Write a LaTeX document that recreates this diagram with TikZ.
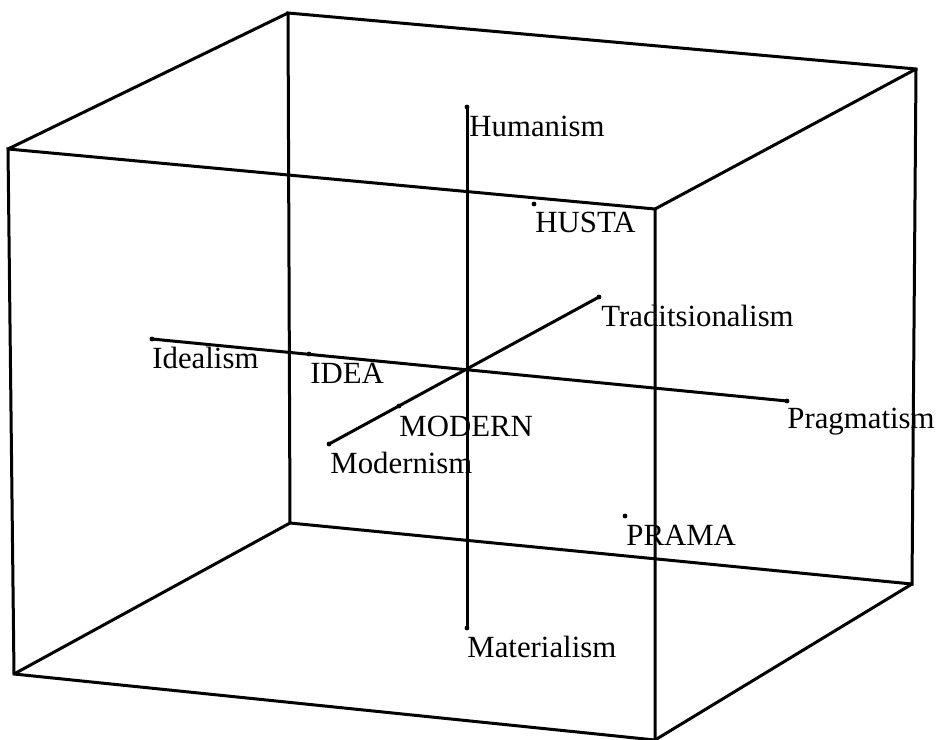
\documentclass[tikz,border=0pt]{standalone}
\usepackage{fontspec}
\setmainfont{Liberation Serif}
\usetikzlibrary{calc}

\begin{document}
\begin{tikzpicture}[
    x=0.5pt, y=-0.5pt,
    edge/.style={line width=1.5pt, line join=miter},
    axis/.style={line width=1.5pt},
    pt/.style={circle, fill, inner sep=0pt, minimum size=2.4pt},
    lbl/.style={anchor=base west, inner sep=0pt, font=\fontsize{15.4}{18}\selectfont}
]
    \useasboundingbox (0,0) rectangle (936,739);

    % cube
    \coordinate (fa) at (8,149);
    \coordinate (fb) at (655,209);
    \coordinate (fc) at (655,740);
    \coordinate (fd) at (14,674);
    \coordinate (ba) at (288,13);
    \coordinate (bb) at (916,69);
    \coordinate (bc) at (912,584);
    \coordinate (bd) at (290,523);
    \draw[edge] (fa) -- (fb) -- (fc) -- (fd) -- cycle;
    \draw[edge] (ba) -- (bb) -- (bc) -- (bd) -- cycle;
    \draw[edge] (fa) -- (ba);
    \draw[edge] (fb) -- (bb);
    \draw[edge] (fc) -- (bc);
    \draw[edge] (fd) -- (bd);

    % axes
    \node[pt] (hum) at (467,107) {};
    \node[pt] (mat) at (467,628) {};
    \node[pt] (ide) at (152,339) {};
    \node[pt] (pra) at (787,401) {};
    \node[pt] (mod) at (329,444) {};
    \node[pt] (tra) at (599,297) {};
    \draw[axis] (hum.center) -- (mat.center);
    \draw[axis] (ide.center) -- (pra.center);
    \draw[axis] (mod.center) -- (tra.center);

    % points
    \node[pt] (idea) at (309,354) {};
    \node[pt] (modern) at (399,406) {};
    \node[pt] (husta) at (534,204) {};
    \node[pt] (prama) at (625,516) {};

    % labels
    \node[lbl] (humL) at ($(hum)+(2,29)$) {Humanism};
    \node[lbl] (matL) at ($(mat)+(0,29)$) {Materialism};
    \node[lbl] (ideL) at ($(ide)+(0,29)$) {Idealism};
    \node[lbl] (praL) at ($(pra)+(0,27)$) {Pragmatism};
    \node[lbl] (modL) at ($(mod)+(1,29)$) {Modernism};
    \node[lbl] (traL) at ($(tra)+(2,29)$) {Traditsionalism};
    \node[lbl] (ideaL) at ($(idea)+(1,29)$) {IDEA};
    \node[lbl] (modernL) at ($(modern)+(0,30)$) {MODERN};
    \node[lbl] (hustaL) at ($(husta)+(1,28)$) {HUSTA};
    \node[lbl] (pramaL) at ($(prama)+(1,29)$) {PRAMA};
\end{tikzpicture}
\end{document}
